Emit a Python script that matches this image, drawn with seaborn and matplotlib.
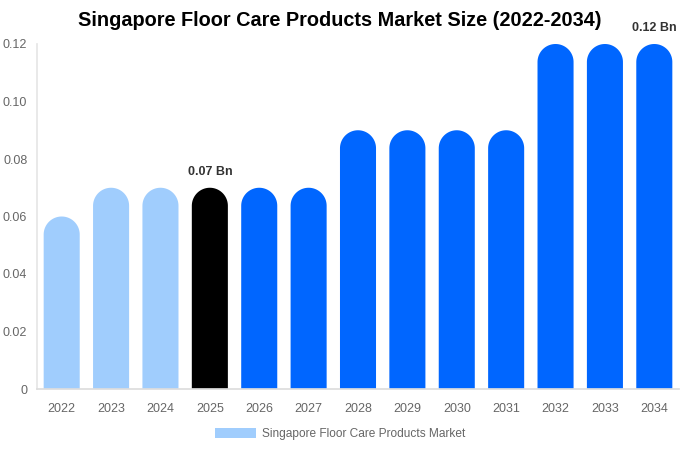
import matplotlib
matplotlib.use("Agg")
import matplotlib.pyplot as plt
import matplotlib.patches as mpatches
from matplotlib.path import Path
import numpy as np
import seaborn as sns
import pandas as pd

years = ["2022", "2023", "2024", "2025", "2026", "2027", "2028",
         "2029", "2030", "2031", "2032", "2033", "2034"]
market_size = [0.06, 0.07, 0.07, 0.07, 0.07, 0.07, 0.09,
               0.09, 0.09, 0.09, 0.12, 0.12, 0.12]
bar_colors = ["#a0cdfd"] * 3 + ["#000000"] + ["#0066ff"] * 9
labelled = {"2025": "0.07 Bn", "2034": "0.12 Bn"}

sns.set_theme(style="white")
plt.rcParams["font.family"] = ["Liberation Sans", "DejaVu Sans"]

df = pd.DataFrame({"Year": years, "Size": market_size})

fig = plt.figure(figsize=(6.8, 4.5), dpi=100)
ax = fig.add_axes([37 / 680, 1 - 389 / 450, 642 / 680, 345 / 450])

sns.barplot(data=df, x="Year", y="Size", hue="Year", palette=bar_colors,
            width=0.73, legend=False, ax=ax, saturation=1, linewidth=0)

ax.set_ylim(0, 0.12)
ax.set_xlim(-0.5, len(years) - 0.5)
ax.set_yticks([0, 0.02, 0.04, 0.06, 0.08, 0.10, 0.12])
ax.set_yticklabels(["0", "0.02", "0.04", "0.06", "0.08", "0.10", "0.12"])
ax.set_xlabel("")
ax.set_ylabel("")
ax.tick_params(axis="both", colors="#666666", labelsize=9, length=0)
ax.tick_params(axis="x", pad=10)
ax.tick_params(axis="y", pad=7)
for s in ["top", "right"]:
    ax.spines[s].set_visible(False)
ax.spines["left"].set_color("#e6e6e6")
ax.spines["bottom"].set_color("#dddddd")

# swap each bar for one shape with a round top (circle in pixel space)
fig.canvas.draw()
px_per_y = ax.transData.transform((0, 0.12))[1] - ax.transData.transform((0, 0))[1]
px_per_x = ax.transData.transform((1, 0))[0] - ax.transData.transform((0, 0))[0]
theta = np.linspace(0, np.pi, 60)
for p in list(ax.patches):
    x0, w, h = p.get_x(), p.get_width(), p.get_height()
    r_x = w / 2
    r_y = r_x * px_per_x * 0.12 / px_per_y
    cx, cy = x0 + r_x, h - r_y
    arc = np.column_stack([cx + r_x * np.cos(theta), cy + r_y * np.sin(theta)])
    verts = np.vstack([[[x0 + w, 0]], arc, [[x0, 0], [x0 + w, 0]]])
    codes = [Path.MOVETO] + [Path.LINETO] * (len(verts) - 2) + [Path.CLOSEPOLY]
    ax.add_patch(mpatches.PathPatch(Path(verts, codes), facecolor=p.get_facecolor(),
                                    edgecolor="none", linewidth=0))
    p.remove()

for i, (yr, v) in enumerate(zip(years, market_size)):
    if yr in labelled:
        ax.text(i, v + 0.0035, labelled[yr], ha="center", va="bottom",
                fontsize=9, fontweight="bold", color="#333333")

fig.suptitle("Singapore Floor Care Products Market Size (2022-2034)",
             x=340 / 680, y=1 - 11 / 450, ha="center", va="top",
             fontsize=14.3, fontweight="bold", color="#000000")

handle = mpatches.Patch(facecolor="#a0cdfd", edgecolor="none",
                        label="Singapore Floor Care Products Market")
fig.legend(handles=[handle], loc="center", bbox_to_anchor=(340 / 680, 1 - 434 / 450),
           frameon=False, fontsize=8.6, handlelength=3.4, handleheight=1.0,
           handletextpad=0.5, labelcolor="#666666")

fig.savefig("out.png", dpi=100)
